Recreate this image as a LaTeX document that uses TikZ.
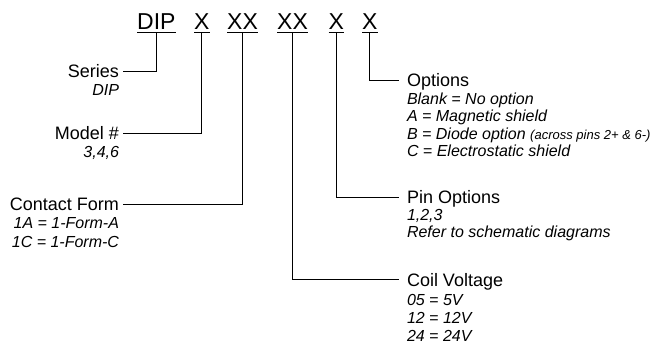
\documentclass[tikz,border=0pt]{standalone}
\usepackage{fontspec}
\setmainfont{Liberation Sans}
\newcommand{\pnitfont}[1]{\fontsize{16}{#1}\selectfont\itshape\setlength{\lineskiplimit}{-20pt}}
\tikzset{
  pncode/.style={font=\fontsize{23}{23}\selectfont, inner sep=0pt, text depth=3pt, anchor=base west},
  pnuline/.style={draw=black, line width=1.2pt},
  pnlead/.style={draw=black, line width=0.9pt},
  pnlbl/.style={font=\fontsize{18}{18}\selectfont, inner sep=0pt, text height=13pt, text depth=0pt,
                outer xsep=4pt, anchor=base east},
  pnlblr/.style={pnlbl, outer xsep=8pt, anchor=base west},
  pndtl/.style={font={\pnitfont{#1}}, inner sep=0pt,
                outer xsep=4pt, anchor=base east, align=right},
  pndtl/.default=18,
  pndtlr/.style={pndtl=#1, outer xsep=8pt, anchor=base west, align=left},
  pndtlr/.default=18,
}
\newcommand{\PNy}{-29}
\newcommand{\PNl}{123}
\newcommand{\PNr}{399}

\begin{document}
\begin{tikzpicture}[x=1pt,y=1pt]
    \useasboundingbox (0,0) rectangle (656,-343);

      \node[pncode] (dip)  at (137,\PNy)   {DIP};
      \node[pncode] (mdl)  at (194,\PNy)   {X};
      \node[pncode] (cnt)  at (227,\PNy)   {XX};
      \node[pncode] (coil) at (277,\PNy)   {XX};
      \node[pncode] (pin)  at (328.5,\PNy) {X};
      \node[pncode] (opt)  at (362,\PNy)   {X};

      \foreach \n in {dip,mdl,cnt,coil,pin,opt}
        \draw[pnuline] (\n.south west) -- (\n.south east);

      \node[pnlbl]      (ser)   at (\PNl,-77.5)  {Series};
      \node[pndtl]      (serd)  at (\PNl,-95)    {DIP};
      \node[pnlbl]      (mdll)  at (\PNl,-139.5) {Model \#};
      \node[pndtl]      (mdld)  at (\PNl,-157)   {3,4,6};
      \node[pnlbl]      (cntl)  at (\PNl,-210.5) {Contact Form};
      \node[pndtl=19]   (cntd)  at (\PNl,-247)   {1A = 1-Form-A\\1C = 1-Form-C};

      \node[pnlblr]     (optl)  at (\PNr,-86.5)  {Options};
      \node[pndtlr=17.5] (optd) at (\PNr,-156.5)
        {Blank = No option\\A = Magnetic shield\\B = Diode option {\fontsize{13}{13}\selectfont(across pins 2+ \& 6-)}\\C = Electrostatic shield};
      \node[pnlblr]     (pinl)  at (\PNr,-203.5) {Pin Options};
      \node[pndtlr=17]  (pind)  at (\PNr,-237)   {1,2,3\\Refer to schematic diagrams};
      \node[pnlblr]     (coill) at (\PNr,-286)   {Coil Voltage};
      \node[pndtlr=18]  (coild) at (\PNr,-341)   {05 = 5V\\12 = 12V\\24 = 24V};

      \draw[pnlead] (dip.south)  |- (ser.east);
      \draw[pnlead] (mdl.south)  |- (mdll.east);
      \draw[pnlead] (cnt.south)  |- (cntl.east);
      \draw[pnlead] (coil.south) |- (coill.west);
      \draw[pnlead] (pin.south)  |- (pinl.west);
      \draw[pnlead] (opt.south)  |- (optl.west);

\end{tikzpicture}
\end{document}
